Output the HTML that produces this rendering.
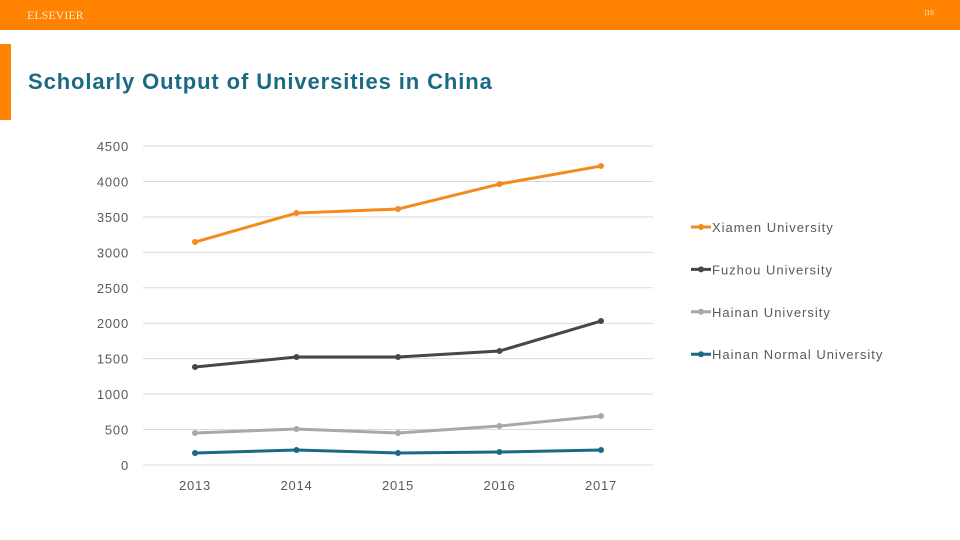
<!DOCTYPE html>
<html><head><meta charset="utf-8"><style>
body{margin:0;width:960px;height:540px;background:#fff;overflow:hidden;font-family:"Liberation Sans",sans-serif;position:relative}
.bar{position:absolute;left:0;top:0;width:960px;height:30px;background:#ff8200}
.logo{position:absolute;left:27px;top:8px;color:#ffe6cc;font-family:"Liberation Serif",serif;font-size:12px}
.pg{position:absolute;right:26px;top:10px;color:#ffe6cc;font-size:7px}
.acc{position:absolute;left:0;top:44px;width:11px;height:76px;background:#ff8200}
h1{position:absolute;left:28px;top:69px;margin:0;font-size:22px;letter-spacing:0.9px;font-weight:bold;color:#1a6a86}
svg{position:absolute;left:0;top:0}
</style></head><body>
<div class="bar"></div>
<div class="logo">ELSEVIER</div>
<div class="pg">|16</div>
<div class="acc"></div>
<h1>Scholarly Output of Universities in China</h1>
<svg id="c" width="960" height="540"></svg>
<script>
const years=["2013","2014","2015","2016","2017"];
const yTicks=[0,500,1000,1500,2000,2500,3000,3500,4000,4500];
const seriesNames=["Xiamen University","Fuzhou University","Hainan University","Hainan Normal University"];
const xiamen=[3145,3554,3611,3963,4217];
const fuzhou=[1382,1523,1523,1608,2031];
const hainan=[451,508,451,550,691];
const hainanNormal=[169,212,169,183,212];
const colors=["#f38a1e","#474747","#a8a8a8","#1a6a86"];
const allSeries=[xiamen,fuzhou,hainan,hainanNormal];
const svg=document.getElementById('c');const NS="http://www.w3.org/2000/svg";
const x=i=>195+i*101.5;const y=v=>465-v*(319/4500);
function mk(t,a){const e=document.createElementNS(NS,t);for(const k in a)e.setAttribute(k,a[k]);svg.appendChild(e);return e;}
yTicks.forEach(v=>{
 const g=mk('line',{x1:143,x2:653,y1:y(v),y2:y(v),stroke:'#d9d9d9','stroke-width':1});
 
 
 const t=mk('text',{x:129,y:y(v)+5,'text-anchor':'end','font-size':13,'letter-spacing':0.8,fill:'#595959','font-family':'Liberation Sans, sans-serif'});
 t.textContent=v;
 
 
});
years.forEach((yr,i)=>{
 const t=mk('text',{x:x(i),y:490,'text-anchor':'middle','font-size':13,'letter-spacing':0.8,fill:'#595959','font-family':'Liberation Sans, sans-serif'});
 t.textContent=yr;
 
 
});
allSeries.forEach((s,k)=>{
 const p=mk('polyline',{points:s.map((v,i)=>x(i)+','+y(v)).join(' '),fill:'none',stroke:colors[k],'stroke-width':3});
 
 
 s.forEach((v,i)=>{const c=mk('circle',{cx:x(i),cy:y(v),r:3,fill:colors[k]});
  
  });
 const ly=227+k*42.4;
 const l=mk('line',{x1:691,x2:711,y1:ly,y2:ly,stroke:colors[k],'stroke-width':3});
 
 
 mk('circle',{cx:701,cy:ly,r:3,fill:colors[k]});
 const t=mk('text',{x:712,y:ly+5,'font-size':13,'letter-spacing':1,fill:'#595959','font-family':'Liberation Sans, sans-serif'});
 t.textContent=seriesNames[k];
 
 
});
</script>
</body></html>
